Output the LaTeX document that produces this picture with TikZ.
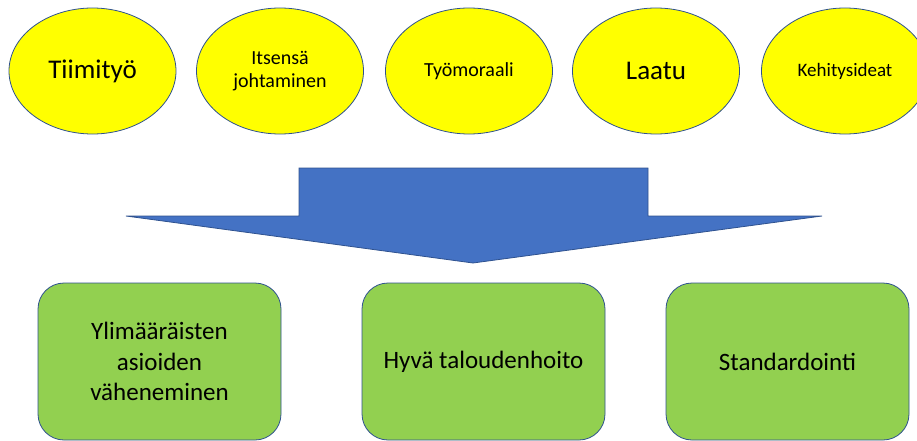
\documentclass[tikz,border=0pt]{standalone}
\usepackage{fontspec}
\setmainfont{Carlito}
\usetikzlibrary{shapes.geometric}
\definecolor{keltainen}{HTML}{FFFF00}
\definecolor{vihrea}{HTML}{92D050}
\definecolor{nuoli}{HTML}{4472C4}
\definecolor{reuna}{HTML}{2F528F}

\begin{document}
\begin{tikzpicture}[x=1pt, y=-1pt,
  aihe/.style={ellipse, draw=reuna, fill=keltainen, line width=0.8pt, minimum width=167pt, minimum height=126pt, inner sep=0pt, align=center},
  tulos/.style={rectangle, rounded corners=26pt, draw=reuna, fill=vihrea, line width=0.8pt, minimum width=243pt, minimum height=157pt, align=center, font=\fontsize{25}{30.5}\selectfont}]
\useasboundingbox (0,0) rectangle (917,441);
\node[aihe, font=\fontsize{27}{33}\selectfont] (tiimi) at (92.5,71) {Tiimityö};
\node[aihe, font=\fontsize{20}{23.5}\selectfont] (johto) at (280,71) {Itsensä\\johtaminen};
\node[aihe, font=\fontsize{20}{24}\selectfont] (moraali) at (469,71) {Työmoraali};
\node[aihe, font=\fontsize{27}{33}\selectfont] (laatu) at (656,71) {Laatu};
\node[aihe, font=\fontsize{19}{23}\selectfont] (ideat) at (845,71) {Kehitysideat};
\draw[fill=nuoli, draw=reuna, line width=0.8pt] (299,168) -- (648,168) -- (648,216) -- (822,216) -- (473,263) -- (126,216) -- (299,216) -- cycle; % iso nuoli
\node[tulos] (turha) at (159.5,361.5) {Ylimääräisten\\asioiden\\väheneminen};
\node[tulos] (talous) at (483.5,361.5) {Hyvä taloudenhoito};
\node[tulos] (standardi) at (787.5,361.5) {Standardointi};
\end{tikzpicture}
\end{document}
